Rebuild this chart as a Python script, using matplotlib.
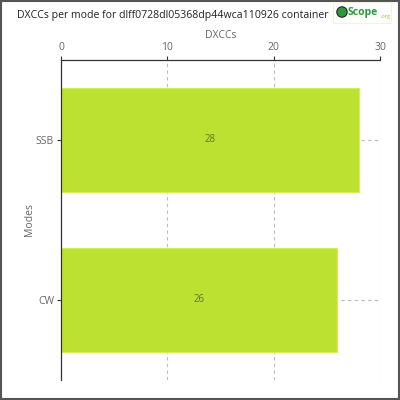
import matplotlib
matplotlib.use("Agg")
import matplotlib.pyplot as plt
from matplotlib.patches import FancyBboxPatch, Rectangle, Circle

# data
modes = ["SSB", "CW"]
dxccs = [28, 26]
xticks = [0, 10, 20, 30]

bar_color = "#bde130"
text_gray = "#666666"

plt.rcParams["font.family"] = ["Open Sans", "DejaVu Sans"]

fig = plt.figure(figsize=(4, 4), dpi=100)
fig.patch.set_facecolor("white")
fig.add_artist(Rectangle((0.002, 0.002), 0.996, 0.996, transform=fig.transFigure,
                         fill=False, edgecolor="#555555", linewidth=1.5))

ax = fig.add_axes([0.1525, 0.05, 0.7975, 0.80])
ypos = list(range(len(modes)))
ax.barh(ypos, dxccs, height=0.65, color=bar_color, edgecolor="#d4ef5a",
        linewidth=0.8, zorder=2)
for y, v in zip(ypos, dxccs):
    ax.text(v / 2, y, str(v), ha="center", va="center", fontsize=7,
            color="#5a7a20", zorder=3)

ax.set_xlim(0, 30)
ax.set_ylim(len(modes) - 0.5, -0.5)
ax.set_xticks(xticks)
ax.set_yticks(ypos)
ax.set_yticklabels(modes)
ax.xaxis.tick_top()
ax.xaxis.set_label_position("top")
ax.set_xlabel("DXCCs", fontsize=7.5, color=text_gray, labelpad=3)
ax.set_ylabel("Modes", fontsize=7.5, color=text_gray)
ax.yaxis.set_label_coords(-0.08, 0.5)
ax.tick_params(axis="both", labelsize=7.5, colors="#333333", labelcolor=text_gray,
               length=3, width=0.8, pad=2)
ax.grid(True, linestyle=(0, (3, 3)), color="#bbbbbb", linewidth=0.8, zorder=0)
for s in ["right", "bottom"]:
    ax.spines[s].set_visible(False)
for s in ["top", "left"]:
    ax.spines[s].set_color("#333333")
    ax.spines[s].set_linewidth(0.9)

fig.text(0.042, 0.962, "DXCCs per mode for dlff0728dl05368dp44wca110926 container",
         fontsize=7.6, color="#222222", ha="left", va="center")

# logo
fig.add_artist(FancyBboxPatch((0.838, 0.945), 0.137, 0.045, boxstyle="round,pad=0.004",
                              transform=fig.transFigure, facecolor="white",
                              edgecolor="#eef3cc", linewidth=0.6))
fig.add_artist(Circle((0.855, 0.97), 0.013, transform=fig.transFigure,
                      facecolor="#2a9a3a", edgecolor="#222222", linewidth=0.8))
fig.text(0.87, 0.97, "Scope", fontsize=7.5, color="#2a9a3a", fontweight="bold",
         ha="left", va="center")
fig.text(0.952, 0.958, ".org", fontsize=4, color="#8cc63f", ha="left", va="center")

fig.savefig("out.png", dpi=100)
